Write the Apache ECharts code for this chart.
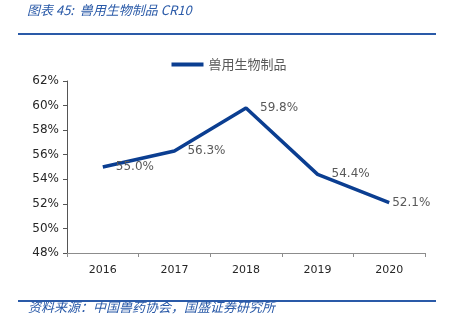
<!DOCTYPE html>
<html><head><meta charset="utf-8">
<script src="https://cdn.jsdelivr.net/npm/echarts@6/dist/echarts.min.js"></script>
<style>html,body{margin:0;padding:0;background:#fff}#c{width:458px;height:328px}</style>
</head><body><div id="c"></div>
<script>
const categories = ['2016','2017','2018','2019','2020'];
const values = [55.0, 56.3, 59.8, 54.4, 52.1];
const seriesName = '兽用生物制品';
const titleText = '图表 45:  兽用生物制品 CR10';
const sourceText = '资料来源：中国兽药协会，国盛证券研究所';

const labelGap = [13, 13, 14, 14, 3];

const chart = echarts.init(document.getElementById('c'));
chart.setOption({
  animation: false,
  textStyle: {fontFamily: 'DejaVu Sans, Noto Sans CJK SC, sans-serif'},
  graphic: [
    {type:'text', left: 27, top: 4, style:{text: titleText, fill:'#2a5aa8', font:'italic 13px "Noto Sans CJK SC", sans-serif'}},
    {type:'rect', shape:{x:18, y:33, width:418, height:2}, style:{fill:'#2a5aa8'}},
    {type:'rect', shape:{x:18, y:300, width:418, height:2}, style:{fill:'#2a5aa8'}},
    {type:'text', left: 28, top: 301, style:{text: sourceText, fill:'#2a5aa8', font:'italic 13px "Noto Sans CJK SC", sans-serif'}}
  ],
  legend: {
    data: [seriesName], top: 53, left: 'center',
    icon: 'rect', itemWidth: 32, itemHeight: 4, itemGap: 4,
    textStyle: {color: '#595959', fontSize: 13, fontFamily: 'Noto Sans CJK SC, sans-serif'}
  },
  grid: {left: 67, right: 33, top: 81, bottom: 75},
  xAxis: {
    type: 'category', data: categories, boundaryGap: true,
    axisLine: {lineStyle: {color: '#8c8c8c', width: 1}},
    axisTick: {show: true, alignWithLabel: false, length: 4, lineStyle: {color: '#8c8c8c'}},
    axisLabel: {color: '#262626', fontSize: 11, margin: 12, fontFamily: 'DejaVu Sans'}
  },
  yAxis: {
    type: 'value', min: 48, max: 62, interval: 2,
    axisLine: {show: true, lineStyle: {color: '#555', width: 1}},
    axisTick: {show: true, length: 4, lineStyle: {color: '#555'}},
    splitLine: {show: false},
    axisLabel: {formatter: '{value}%', color: '#262626', fontSize: 12, margin: 8, fontFamily: 'DejaVu Sans'}
  },
  series: [{
    name: seriesName, type: 'line',
    data: values.map((v, i) => ({value: v, label: {distance: labelGap[i]}})),
    showSymbol: true, symbol: 'circle', symbolSize: 0,
    lineStyle: {color: '#0b3e91', width: 3.5},
    itemStyle: {color: '#0b3e91'},
    label: {show: true, position: 'right', color: '#595959', fontSize: 12, fontFamily: 'DejaVu Sans',
            formatter: p => p.value.toFixed(1) + '%'}
  }]
});
</script></body></html>
